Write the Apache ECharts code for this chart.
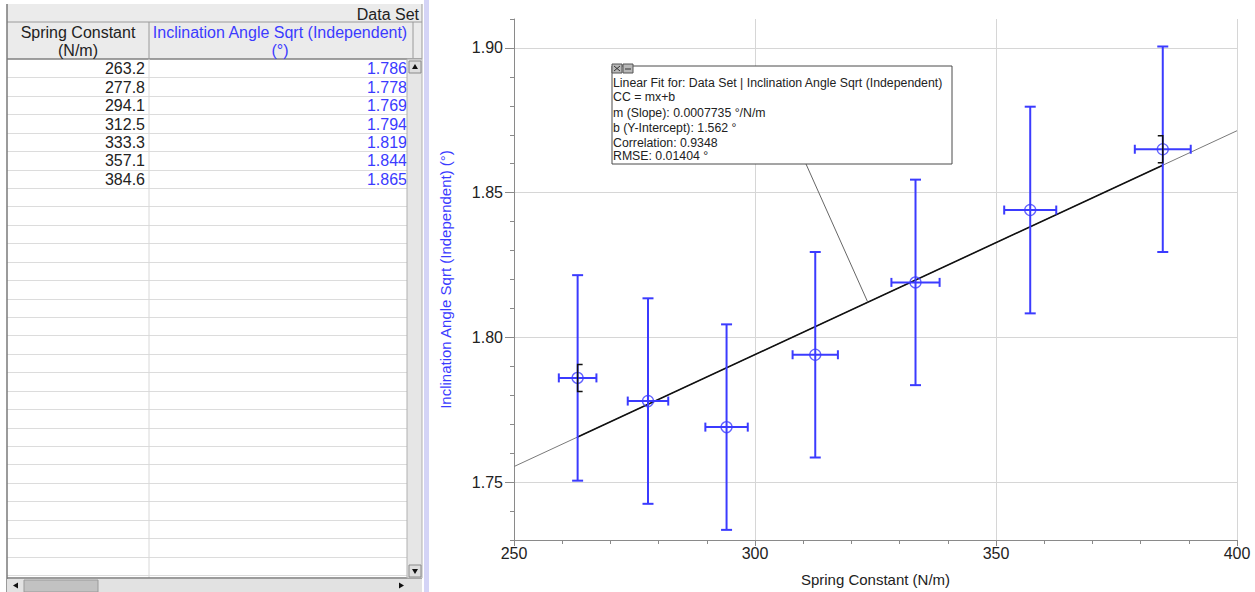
<!DOCTYPE html>
<html>
<head>
<meta charset="utf-8">
<script src="https://cdn.jsdelivr.net/npm/echarts@6/dist/echarts.min.js"></script>
<style>
html, body { margin: 0; padding: 0; background: #fff; }
#main { width: 1255px; height: 592px; }
</style>
</head>
<body>
<div id="main"></div>
<script>
var springConstant = [263.2, 277.8, 294.1, 312.5, 333.3, 357.1, 384.6];
var inclinationSqrt = [1.786, 1.778, 1.769, 1.794, 1.819, 1.844, 1.865];
var xError = [3.9, 4.2, 4.4, 4.7, 5.0, 5.4, 5.8];
var yError = [0.0355, 0.0355, 0.0355, 0.0355, 0.0355, 0.0357, 0.0355];
var xTicks = [250, 300, 350, 400];
var yMajorTicks = [1.75, 1.80, 1.85, 1.90];

// linear fit shown in the annotation box
var fitSlope = 0.0007735;
var fitIntercept = 1.562;
var fitText = [
	'Linear Fit for: Data Set | Inclination Angle Sqrt (Independent)',
	'CC = mx+b',
	'm (Slope): 0.0007735 °/N/m',
	'b (Y-Intercept): 1.562 °',
	'Correlation: 0.9348',
	'RMSE: 0.01404 °'
];

var BLUE = '#3b3bff';
var FONT = '"Liberation Sans", Arial, sans-serif';
var TFONT = '16px ' + FONT;

function fitAt(x) {
	return fitSlope * x + fitIntercept;
}

// 表格 (left panel)
function tableGraphics() {
	var els = [];
	var rowH = 18.43, top = 59, bottom = 578;
	var left = 7, colDiv = 149, right = 407;

	// header background
	els.push({ type: 'rect', shape: { x: left, y: 4, width: 415, height: 55 }, style: { fill: '#ebebeb', stroke: null } });
	els.push({ type: 'line', shape: { x1: left, y1: 22, x2: 422, y2: 22 }, style: { stroke: '#9a9a9a', lineWidth: 1 } });
	els.push({ type: 'line', shape: { x1: left, y1: 59, x2: 422, y2: 59 }, style: { stroke: '#808080', lineWidth: 1.5 } });
	els.push({ type: 'line', shape: { x1: colDiv, y1: 22, x2: colDiv, y2: 59 }, style: { stroke: '#9a9a9a', lineWidth: 1 } });
	els.push({ type: 'line', shape: { x1: 413, y1: 22, x2: 413, y2: 59 }, style: { stroke: '#9a9a9a', lineWidth: 1 } });
	els.push({ type: 'line', shape: { x1: 422, y1: 4, x2: 422, y2: 59 }, style: { stroke: '#9a9a9a', lineWidth: 1 } });
	els.push({ type: 'text', style: { text: 'Data Set', x: 419, y: 14, align: 'right', verticalAlign: 'middle', font: TFONT, fill: '#222' } });
	els.push({ type: 'text', style: { text: 'Spring Constant', x: 78, y: 32, align: 'center', verticalAlign: 'middle', font: TFONT, fill: '#222' } });
	els.push({ type: 'text', style: { text: '(N/m)', x: 78, y: 50, align: 'center', verticalAlign: 'middle', font: TFONT, fill: '#222' } });
	els.push({ type: 'text', style: { text: 'Inclination Angle Sqrt (Independent)', x: 280, y: 32, align: 'center', verticalAlign: 'middle', font: TFONT, fill: BLUE } });
	els.push({ type: 'text', style: { text: '(°)', x: 280, y: 50, align: 'center', verticalAlign: 'middle', font: TFONT, fill: BLUE } });

	// rows
	for (var yy = top + rowH; yy < bottom; yy += rowH) {
		els.push({ type: 'line', shape: { x1: left, y1: Math.round(yy) + 0.5, x2: right, y2: Math.round(yy) + 0.5 }, style: { stroke: '#dcdcdc', lineWidth: 1 } });
	}
	els.push({ type: 'line', shape: { x1: colDiv, y1: top, x2: colDiv, y2: bottom }, style: { stroke: '#d8d8d8', lineWidth: 1 } });
	for (var i = 0; i < springConstant.length; i++) {
		var cy = top + rowH * (i + 0.5) + 0.5;
		els.push({ type: 'text', style: { text: springConstant[i].toFixed(1), x: 145, y: cy, align: 'right', verticalAlign: 'middle', font: TFONT, fill: '#222' } });
		els.push({ type: 'text', style: { text: inclinationSqrt[i].toFixed(3), x: 407, y: cy, align: 'right', verticalAlign: 'middle', font: TFONT, fill: BLUE } });
	}

	// borders
	els.push({ type: 'line', shape: { x1: left, y1: 4, x2: left, y2: 592 }, style: { stroke: '#7a7a7a', lineWidth: 1.5 } });
	els.push({ type: 'line', shape: { x1: left, y1: bottom, x2: 422, y2: bottom }, style: { stroke: '#7a7a7a', lineWidth: 1.5 } });

	// vertical scrollbar
	els.push({ type: 'rect', shape: { x: right, y: top, width: 15, height: bottom - top }, style: { fill: '#e6e6e6', stroke: '#b0b0b0', lineWidth: 1 } });
	els.push({ type: 'rect', shape: { x: 409, y: 61, width: 12, height: 12 }, style: { fill: '#dedede', stroke: '#8a8a8a', lineWidth: 1 } });
	els.push({ type: 'polygon', shape: { points: [[415, 64], [412, 69], [418, 69]] }, style: { fill: '#111' } });
	els.push({ type: 'rect', shape: { x: 409, y: 565, width: 12, height: 12 }, style: { fill: '#dedede', stroke: '#8a8a8a', lineWidth: 1 } });
	els.push({ type: 'polygon', shape: { points: [[415, 574], [412, 569], [418, 569]] }, style: { fill: '#111' } });

	// horizontal scrollbar
	els.push({ type: 'rect', shape: { x: left, y: 579, width: 415, height: 13 }, style: { fill: '#e2e2e2', stroke: null } });
	els.push({ type: 'rect', shape: { x: 24, y: 580, width: 74, height: 12 }, style: { fill: '#c2c2c2', stroke: '#9a9a9a', lineWidth: 1 } });
	els.push({ type: 'polygon', shape: { points: [[13, 585.5], [18, 582.5], [18, 588.5]] }, style: { fill: '#111' } });
	els.push({ type: 'polygon', shape: { points: [[404, 585.5], [399, 582.5], [399, 588.5]] }, style: { fill: '#111' } });

	// panel divider
	els.push({ type: 'rect', shape: { x: 424, y: 0, width: 5, height: 592 }, style: { fill: '#d4d4f6', stroke: null } });
	return els;
}

function boxGraphics() {
	var els = [];
	var lineY = [83, 97, 112.5, 128, 143, 156];
	els.push({ type: 'rect', shape: { x: 612, y: 66, width: 340, height: 98 }, style: { fill: '#fff', stroke: '#4a4a4a', lineWidth: 1 }, z: 100 });
	els.push({ type: 'rect', shape: { x: 612, y: 64, width: 10, height: 9 }, style: { fill: '#b8b8b8', stroke: '#555', lineWidth: 1 }, z: 101 });
	els.push({ type: 'line', shape: { x1: 614, y1: 66, x2: 620, y2: 71 }, style: { stroke: '#333', lineWidth: 1 }, z: 102 });
	els.push({ type: 'line', shape: { x1: 620, y1: 66, x2: 614, y2: 71 }, style: { stroke: '#333', lineWidth: 1 }, z: 102 });
	els.push({ type: 'rect', shape: { x: 623, y: 64, width: 10, height: 9 }, style: { fill: '#b8b8b8', stroke: '#555', lineWidth: 1 }, z: 101 });
	els.push({ type: 'line', shape: { x1: 625, y1: 69, x2: 631, y2: 69 }, style: { stroke: '#333', lineWidth: 1 }, z: 102 });
	for (var i = 0; i < fitText.length; i++) {
		els.push({ type: 'text', style: { text: fitText[i], x: 613, y: lineY[i], verticalAlign: 'middle', font: '12.3px ' + FONT, fill: '#222' }, z: 102 });
	}
	return els;
}

// 误差线
function renderErrorBar(params, api) {
	var x = api.value(0), y = api.value(1), dx = api.value(2), dy = api.value(3);
	var top = api.coord([x, y + dy]), bot = api.coord([x, y - dy]);
	var l = api.coord([x - dx, y]), r = api.coord([x + dx, y]);
	var cap = 5.5, hcap = 4.5;
	var style = { stroke: BLUE, lineWidth: 2, fill: null };
	return {
		type: 'group',
		children: [
			{ type: 'line', shape: { x1: top[0], y1: top[1], x2: bot[0], y2: bot[1] }, style: style },
			{ type: 'line', shape: { x1: top[0] - cap, y1: top[1], x2: top[0] + cap, y2: top[1] }, style: style },
			{ type: 'line', shape: { x1: bot[0] - cap, y1: bot[1], x2: bot[0] + cap, y2: bot[1] }, style: style },
			{ type: 'line', shape: { x1: l[0], y1: l[1], x2: r[0], y2: r[1] }, style: style },
			{ type: 'line', shape: { x1: l[0], y1: l[1] - hcap, x2: l[0], y2: l[1] + hcap }, style: style },
			{ type: 'line', shape: { x1: r[0], y1: r[1] - hcap, x2: r[0], y2: r[1] + hcap }, style: style }
		]
	};
}

// fit range brackets at first / last point
function renderBracket(params, api) {
	var p = api.coord([api.value(0), api.value(1)]);
	var dir = api.value(2);
	var h = 13.5, w = 5;
	var style = { stroke: '#111', lineWidth: 1.5, fill: null };
	return {
		type: 'polyline',
		shape: { points: [[p[0] + dir * w, p[1] - h], [p[0], p[1] - h], [p[0], p[1] + h], [p[0] + dir * w, p[1] + h]] },
		style: style
	};
}

var errData = [], pointData = [];
for (var i = 0; i < springConstant.length; i++) {
	errData.push([springConstant[i], inclinationSqrt[i], xError[i], yError[i]]);
	pointData.push([springConstant[i], inclinationSqrt[i]]);
}
var last = springConstant.length - 1;
var bracketData = [
	[springConstant[0], inclinationSqrt[0], 1],
	[springConstant[last], inclinationSqrt[last], -1]
];

var chart = echarts.init(document.getElementById('main'), null, { renderer: 'svg' });

var option = {
	animation: false,
	backgroundColor: '#fff',
	grid: { left: 514, right: 18, top: 19, bottom: 51 },
	xAxis: {
		type: 'value',
		min: xTicks[0],
		max: xTicks[xTicks.length - 1],
		interval: 50,
		name: 'Spring Constant (N/m)',
		nameLocation: 'middle',
		nameGap: 32,
		nameTextStyle: { color: '#222', fontSize: 15, fontFamily: FONT },
		axisLine: { show: true, lineStyle: { color: '#8a8a8a', width: 1 } },
		axisTick: { show: true, length: 6, lineStyle: { color: '#8a8a8a' } },
		minorTick: { show: true, splitNumber: 5, length: 4, lineStyle: { color: '#8a8a8a' } },
		axisLabel: { color: '#222', fontSize: 16, fontFamily: FONT, margin: 5 },
		splitLine: { show: true, lineStyle: { color: '#d6d6d6', width: 1 } }
	},
	yAxis: [
		{
			type: 'value',
			min: 1.73,
			max: 1.91,
			interval: 0.01,
			name: 'Inclination Angle Sqrt (Independent) (°)',
			nameLocation: 'middle',
			nameGap: 61,
			nameTextStyle: { color: BLUE, fontSize: 15, fontFamily: FONT },
			axisLine: { show: true, lineStyle: { color: '#8a8a8a', width: 1 } },
			axisTick: { show: true, length: 4, lineStyle: { color: '#8a8a8a' } },
			axisLabel: {
				color: '#222', fontSize: 16, fontFamily: FONT, margin: 11,
				formatter: function(v) {
					for (var k = 0; k < yMajorTicks.length; k++) {
						if (Math.abs(v - yMajorTicks[k]) < 1e-6) return yMajorTicks[k].toFixed(2);
					}
					return '';
				}
			},
			splitLine: { show: false }
		},
		{
			type: 'value',
			min: 1.73,
			max: 1.91,
			position: 'left',
			axisLine: { show: false },
			axisTick: { show: true, length: 9, customValues: yMajorTicks, lineStyle: { color: '#8a8a8a' } },
			axisLabel: { show: false },
			splitLine: { show: false }
		}
	],
	series: [
		{
			name: 'fitFull',
			type: 'line',
			z: 1,
			symbol: 'none',
			silent: true,
			data: [[xTicks[0], fitAt(xTicks[0])], [xTicks[xTicks.length - 1], fitAt(xTicks[xTicks.length - 1])]],
			lineStyle: { color: '#7a7a7a', width: 1 },
			markLine: {
				silent: true,
				z: 0,
				symbol: 'none',
				label: { show: false },
				lineStyle: { color: '#d6d6d6', width: 1, type: 'solid' },
				data: yMajorTicks.map(function(v) { return { yAxis: v }; })
			}
		},
		{
			name: 'fitRange',
			type: 'line',
			z: 2,
			symbol: 'none',
			silent: true,
			data: [[springConstant[0], fitAt(springConstant[0])], [springConstant[last], fitAt(springConstant[last])]],
			lineStyle: { color: '#111', width: 1.6 }
		},
		{
			name: 'error',
			type: 'custom',
			z: 3,
			renderItem: renderErrorBar,
			data: errData,
			encode: { x: 0, y: 1 }
		},
		{
			name: 'points',
			type: 'scatter',
			z: 4,
			symbol: 'circle',
			symbolSize: 11,
			data: pointData,
			itemStyle: { color: 'rgba(255,255,255,0)', borderColor: BLUE, borderWidth: 1.3 }
		},
		{
			name: 'bracket',
			type: 'custom',
			z: 5,
			renderItem: renderBracket,
			data: bracketData,
			encode: { x: 0, y: 1 }
		}
	],
	graphic: tableGraphics().concat(boxGraphics())
};
chart.setOption(option);

// leader line from the box to the fit line
var leaderX = 323.4;
var end = chart.convertToPixel({ gridIndex: 0 }, [leaderX, fitAt(leaderX)]);
option.graphic.push({ type: 'line', shape: { x1: 806, y1: 164, x2: end[0], y2: end[1] }, style: { stroke: '#666', lineWidth: 1 }, z: 99 });
chart.setOption({ graphic: option.graphic });
</script>
</body>
</html>
